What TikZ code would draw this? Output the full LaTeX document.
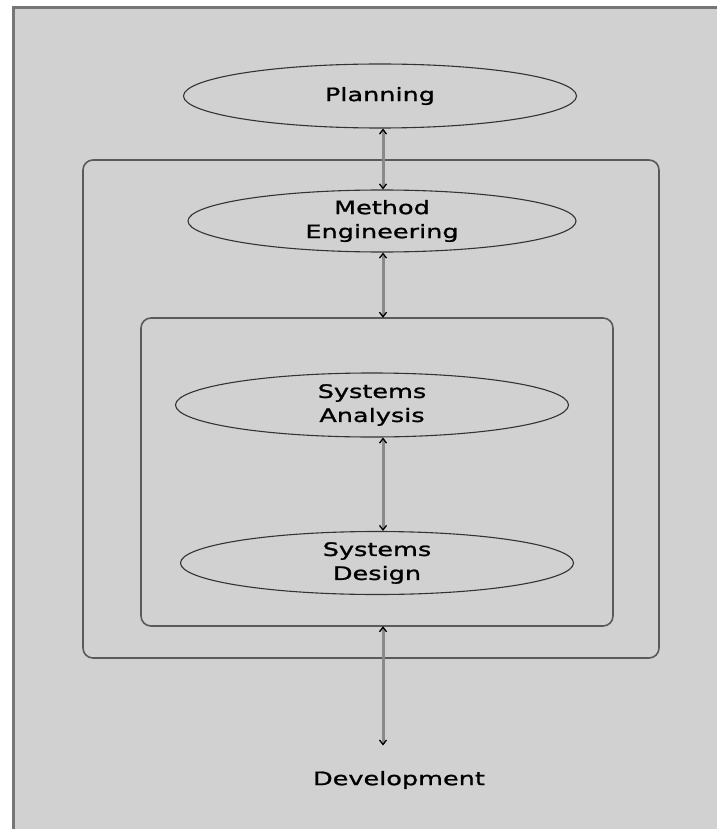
\documentclass[tikz,border=0pt]{standalone}
\usepackage{fontspec}
\usetikzlibrary{shapes.geometric,arrows.meta}
\newfontfamily\diagfont[FakeStretch=1.38,FakeBold=1.2]{DejaVu Sans}
\definecolor{panelbg}{HTML}{D1D1D1}
\definecolor{paneledge}{HTML}{767676}
\definecolor{boxline}{HTML}{5A5A5A}
\definecolor{linkgray}{HTML}{8A8A8A}
\tikzset{
  phase/.style={ellipse, draw=black!80, line width=1.1pt, inner sep=0pt,
    minimum width=393pt, minimum height=64pt, align=center,
    font=\diagfont\fontsize{18.5}{24}\selectfont, text=black},
  region/.style={draw=boxline, line width=1.6pt, rounded corners=10pt},
  barb/.tip={Straight Barb[length=4.5pt,width=7pt,line width=1.3pt,color=black]},
  link/.style={arrows={barb-barb}, draw=linkgray, line width=3pt},
  label/.style={font=\diagfont\fontsize{18.5}{24}\selectfont, text=black}
}
\begin{document}
\begin{tikzpicture}[x=1pt,y=-1pt]
  \useasboundingbox (0,0) rectangle (717,829);
  % page panel
  \fill[white] (0,0) rectangle (717,829);
  \fill[panelbg] (13,8) rectangle (717,829);
  \draw[paneledge, line width=3pt] (13,829) -- (13,8) -- (717,8);

  % nested regions
  \draw[region] (83,160) rectangle (659,658);
  \node[inner sep=0pt, minimum width=576pt, minimum height=498pt] (outer) at (371,409) {};
  \draw[region] (141,318) rectangle (613,626);
  \node[inner sep=0pt, minimum width=472pt, minimum height=308pt] (inner) at (377,472) {};

  % axis for the vertical connectors
  \coordinate (ax) at (383,0);

  % phases
  \node[phase] (plan) at (380,96) {Planning};
  \node[phase, minimum width=388pt, minimum height=62pt] (meth) at (382,221) {Method\\Engineering};
  \node[phase] (ana) at (372,405) {Systems\\Analysis};
  \node[phase, minimum height=63pt] (des) at (377,563) {Systems\\Design};
  \node[label] (dev) at (399,780) {Development};

  % connectors
  \draw[link] (plan.south -| ax) -- (meth.north -| ax);
  \draw[link] (meth.south -| ax) -- (inner.north -| ax);
  \draw[link] (ana.south -| ax) -- (des.north -| ax);
  \draw[link, shorten >=22pt] (inner.south -| ax) -- (dev.north -| ax);
\end{tikzpicture}
\end{document}
